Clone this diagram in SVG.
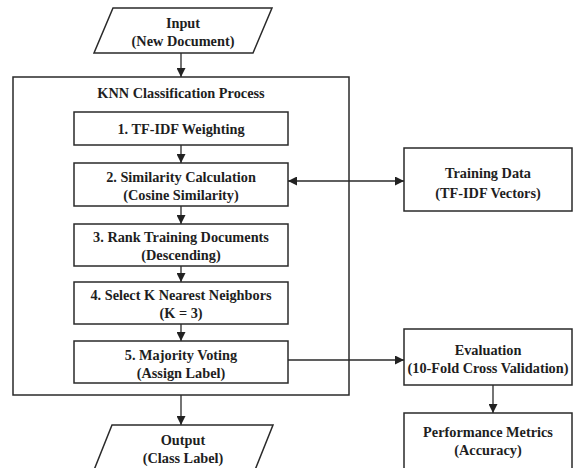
<svg xmlns="http://www.w3.org/2000/svg" width="574" height="468" viewBox="0 0 574 468">
<defs>
<style>
.s{fill:#fff;stroke:#2a2a2a;stroke-width:1.5}
.c{fill:none;stroke:#2a2a2a;stroke-width:1.3}
text{font-family:"Liberation Serif","Times New Roman",serif;font-weight:bold;font-size:14.3px;fill:#1e1e1e;text-anchor:middle}
</style>
<marker id="ah" viewBox="0 0 10 10" refX="10" refY="5" markerWidth="9" markerHeight="9" markerUnits="userSpaceOnUse" orient="auto-start-reverse">
<path d="M0,0 L10,5 L0,10 z" fill="#222"/>
</marker>
</defs>
<rect width="574" height="468" fill="#fff"/>
<g id="container">
<rect class="s" x="13" y="77" width="336" height="318"/>
<text x="181" y="98">KNN Classification Process</text>
</g>
<g id="input">
<polygon class="s" points="113,8 272,8 253,53 94,53"/>
<text x="183" y="28">Input</text>
<text x="183" y="46">(New Document)</text>
</g>
<g id="step1">
<rect class="s" x="74" y="112" width="214" height="33"/>
<text x="181" y="134">1. TF-IDF Weighting</text>
</g>
<g id="step2">
<rect class="s" x="74" y="163" width="214" height="43"/>
<text x="181" y="182">2. Similarity Calculation</text>
<text x="181" y="200">(Cosine Similarity)</text>
</g>
<g id="step3">
<rect class="s" x="74" y="224" width="214" height="42"/>
<text x="181" y="242">3. Rank Training Documents</text>
<text x="181" y="260">(Descending)</text>
</g>
<g id="step4">
<rect class="s" x="74" y="282" width="214" height="42"/>
<text x="181" y="300">4. Select K Nearest Neighbors</text>
<text x="181" y="318">(K = 3)</text>
</g>
<g id="step5">
<rect class="s" x="74" y="341" width="214" height="42"/>
<text x="181" y="360">5. Majority Voting</text>
<text x="181" y="378">(Assign Label)</text>
</g>
<g id="output">
<polygon class="s" points="112,425 273,425 255,470 94,470"/>
<text x="183" y="445">Output</text>
<text x="183" y="463">(Class Label)</text>
</g>
<g id="training">
<rect class="s" x="404" y="148" width="168" height="63"/>
<text x="488" y="178">Training Data</text>
<text x="488" y="198">(TF-IDF Vectors)</text>
</g>
<g id="evaluation">
<rect class="s" x="404" y="329" width="168" height="56"/>
<text x="488" y="355">Evaluation</text>
<text x="488" y="373">(10-Fold Cross Validation)</text>
</g>
<g id="metrics">
<rect class="s" x="404" y="413" width="168" height="60"/>
<text x="488" y="437">Performance Metrics</text>
<text x="488" y="455">(Accuracy)</text>
</g>
<g id="connectors">
<line class="c" x1="181" y1="53" x2="181" y2="77" marker-end="url(#ah)"/>
<line class="c" x1="181" y1="145" x2="181" y2="163" marker-end="url(#ah)"/>
<line class="c" x1="181" y1="206" x2="181" y2="224" marker-end="url(#ah)"/>
<line class="c" x1="181" y1="266" x2="181" y2="282" marker-end="url(#ah)"/>
<line class="c" x1="181" y1="324" x2="181" y2="341" marker-end="url(#ah)"/>
<line class="c" x1="181" y1="395" x2="181" y2="425" marker-end="url(#ah)"/>
<line class="c" x1="288" y1="181" x2="404" y2="181" marker-start="url(#ah)" marker-end="url(#ah)"/>
<line class="c" x1="288" y1="360" x2="404" y2="360" marker-end="url(#ah)"/>
<line class="c" x1="493" y1="385" x2="493" y2="413" marker-end="url(#ah)"/>
</g>
</svg>
